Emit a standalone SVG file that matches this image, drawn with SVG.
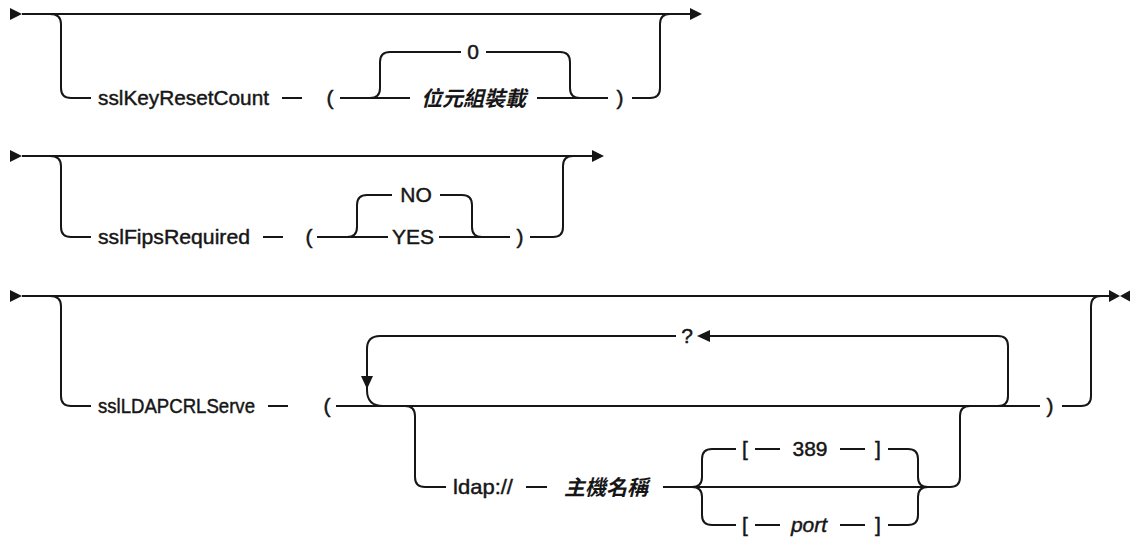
<svg xmlns="http://www.w3.org/2000/svg" width="1130" height="538" viewBox="0 0 1130 538">
<style>
.ln{fill:none;stroke:#161616;stroke-width:2}
.ar{fill:#161616;stroke:none}
.t{font-family:"Liberation Sans",Arial,sans-serif;font-size:21px;fill:#161616;stroke:#161616;stroke-width:0.45}
.m{text-anchor:middle}
.cj{font-family:"Noto Sans CJK TC","Noto Sans CJK SC",sans-serif;font-size:21px;font-style:italic;font-weight:bold;fill:#161616}
.it{font-style:italic}
</style>
<g id="connectors">
<!-- diagram 1 -->
<polygon class="ar" points="10,8 22,14 10,20"/>
<path class="ln" d="M22 14 H690"/>
<polygon class="ar" points="690,8 702,14 690,20"/>
<path class="ln" d="M50 14 Q61 14 61 24 V88 Q61 98 71 98 H91"/>
<path class="ln" d="M282 98 H302"/>
<path class="ln" d="M340 98 H410 M537 98 H608"/>
<path class="ln" d="M370 98 Q380 98 380 88 V62 Q380 52 390 52 H461"/>
<path class="ln" d="M486 52 H560 Q570 52 570 62 V88 Q570 98 580 98"/>
<path class="ln" d="M632 98 H650 Q660 98 660 88 V24 Q660 14 670 14"/>
<!-- diagram 2 -->
<polygon class="ar" points="10,150 22,156 10,162"/>
<path class="ln" d="M22 156 H592"/>
<polygon class="ar" points="592,150 604,156 592,162"/>
<path class="ln" d="M50 156 Q61 156 61 166 V227 Q61 237 71 237 H91"/>
<path class="ln" d="M263 237 H283"/>
<path class="ln" d="M317 237 H388 M439 237 H510"/>
<path class="ln" d="M347 237 Q357 237 357 227 V205 Q357 195 367 195 H392"/>
<path class="ln" d="M440 195 H462 Q472 195 472 205 V227 Q472 237 482 237"/>
<path class="ln" d="M530 237 H553 Q563 237 563 227 V166 Q563 156 573 156"/>
<!-- diagram 3 -->
<polygon class="ar" points="10,290 22,296 10,302"/>
<path class="ln" d="M22 296 H1110"/>
<polygon class="ar" points="1109,290 1120,296 1109,302"/>
<polygon class="ar" points="1131,290 1120,296 1131,302"/>
<path class="ln" d="M50 296 Q61 296 61 306 V396 Q61 406 71 406 H91"/>
<path class="ln" d="M268 406 H288"/>
<path class="ln" d="M336 406 H1040"/>
<path class="ln" d="M380 336 Q367 336 367 349 V390 Q367 406 383 406"/>
<polygon class="ar" points="361,376 373,376 367,389"/>
<path class="ln" d="M380 336 H676"/>
<path class="ln" d="M710 336 H998 Q1008 336 1008 346 V396 Q1008 406 998 406"/>
<polygon class="ar" points="697,336 710,330 710,342"/>
<path class="ln" d="M405 406 Q415 406 415 416 V477 Q415 487 425 487 H446"/>
<path class="ln" d="M526 487 H547"/>
<path class="ln" d="M663 487 H950 Q960 487 960 477 V416 Q960 406 970 406"/>
<path class="ln" d="M692 487 Q702 487 702 477 V459 Q702 449 712 449 H736"/>
<path class="ln" d="M692 487 Q702 487 702 497 V515 Q702 525 712 525 H736"/>
<path class="ln" d="M755 449 H780 M840 449 H865"/>
<path class="ln" d="M755 525 H780 M840 525 H865"/>
<path class="ln" d="M888 449 H908 Q918 449 918 459 V477 Q918 487 928 487"/>
<path class="ln" d="M888 525 H908 Q918 525 918 515 V497 Q918 487 928 487"/>
<path class="ln" d="M1062 406 H1081 Q1091 406 1091 396 V306 Q1091 296 1101 296"/>
</g>
<g id="n-sslKeyResetCount"><text class="t" x="98" y="105" textLength="171" lengthAdjust="spacingAndGlyphs">sslKeyResetCount</text></g>
<g id="n-lp1"><text class="t m" x="330" y="105">(</text></g>
<g id="n-zero"><text class="t m" x="473" y="59">0</text></g>
<g id="n-bytes"><text class="cj" x="421" y="106">位元組裝載</text></g>
<g id="n-rp1"><text class="t m" x="620" y="105">)</text></g>
<g id="n-sslFipsRequired"><text class="t" x="98" y="244" textLength="152" lengthAdjust="spacingAndGlyphs">sslFipsRequired</text></g>
<g id="n-lp2"><text class="t m" x="309" y="244">(</text></g>
<g id="n-no"><text class="t m" x="416" y="202">NO</text></g>
<g id="n-yes"><text class="t m" x="413" y="244">YES</text></g>
<g id="n-rp2"><text class="t m" x="520" y="244">)</text></g>
<g id="n-sslLDAPCRLServe"><text class="t" x="98" y="413" textLength="157" lengthAdjust="spacingAndGlyphs">sslLDAPCRLServe</text></g>
<g id="n-lp3"><text class="t m" x="327" y="413">(</text></g>
<g id="n-q"><text class="t m" x="687" y="343">?</text></g>
<g id="n-ldap"><text class="t" x="453" y="494" textLength="60" lengthAdjust="spacingAndGlyphs">ldap://</text></g>
<g id="n-host"><text class="cj" x="564" y="495">主機名稱</text></g>
<g id="n-lb1"><text class="t m" x="745" y="456">[</text></g>
<g id="n-389"><text class="t m" x="810" y="456">389</text></g>
<g id="n-rb1"><text class="t m" x="878" y="456">]</text></g>
<g id="n-lb2"><text class="t m" x="745" y="532">[</text></g>
<g id="n-port"><text class="t m it" x="809" y="532">port</text></g>
<g id="n-rb2"><text class="t m" x="878" y="532">]</text></g>
<g id="n-rp3"><text class="t m" x="1050" y="413">)</text></g>
</svg>
